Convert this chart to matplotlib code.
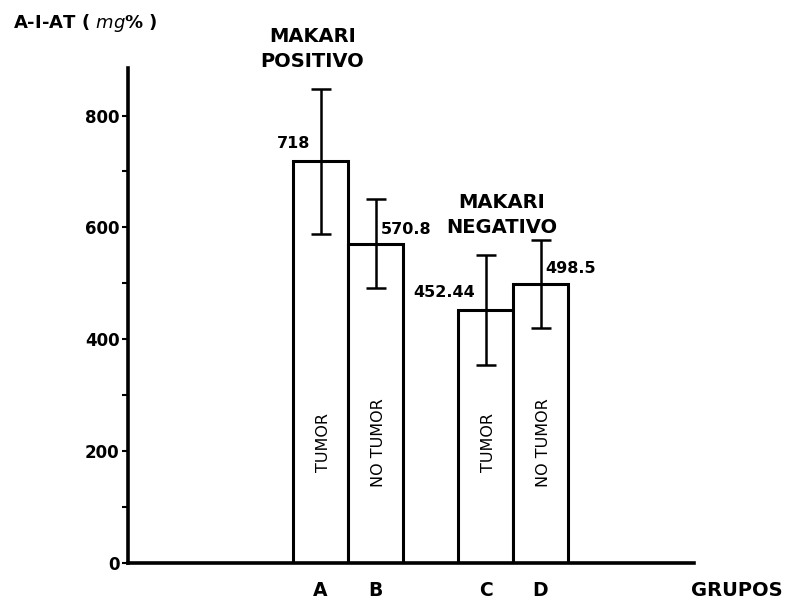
import matplotlib
matplotlib.use("Agg")
import matplotlib.pyplot as plt

# ---- data ----
groups = ['A', 'B', 'C', 'D']
means = [718, 570.8, 452.44, 498.5]
errors = [130, 80, 98, 79]
value_labels = ['718', '570.8', '452.44', '498.5']
bar_labels = ['TUMOR', 'NO TUMOR', 'TUMOR', 'NO TUMOR']
positions = [3.5, 4.5, 6.5, 7.5]
y_ticks = [0, 200, 400, 600, 800]
y_minor = [100, 300, 500, 700]

plt.rcParams['font.family'] = ['DejaVu Sans']

W, H = 796, 604
fig = plt.figure(figsize=(W / 100, H / 100), dpi=100)
ax_l, ax_b, ax_w, ax_h = 128, 41, 566, 495
ax = fig.add_axes([ax_l / W, ax_b / H, ax_w / W, ax_h / H])

ax.bar(positions, means, width=1.0, color='white', edgecolor='black',
       linewidth=2.2, zorder=2)
ax.errorbar(positions, means, yerr=errors, fmt='none', ecolor='black',
            elinewidth=1.8, capsize=7, capthick=1.8, zorder=3)

ax.set_xlim(0, ax_w / 55)
ax.set_ylim(0, 885)

for s in ['top', 'right']:
    ax.spines[s].set_visible(False)
for s in ['left', 'bottom']:
    ax.spines[s].set_linewidth(2.6)

ax.set_yticks(y_ticks)
ax.set_yticklabels([str(v) for v in y_ticks], fontsize=12, fontweight='bold')
ax.set_yticks(y_minor, minor=True)
ax.tick_params(axis='y', which='both', direction='out', length=4, width=1.5, pad=2)

ax.set_xticks(positions)
ax.set_xticklabels(groups, fontsize=13.5, fontweight='bold')
ax.tick_params(axis='x', length=0, pad=13)

# value labels
offsets = [(-10, 18, 'right'), (5, 14, 'left'), (-10, 17, 'right'), (5, 16, 'left')]
for p, m, lab, (dx, dy, ha) in zip(positions, means, value_labels, offsets):
    ax.annotate(lab, (p, m), xytext=(dx, dy), textcoords='offset pixels',
                ha=ha, va='center', fontsize=11.5, fontweight='bold')

# labels inside bars
for p, lab in zip(positions, bar_labels):
    ax.text(p + 0.05, 216, lab, rotation=90, ha='center', va='center', fontsize=11.5)

# group annotations
ax.text(3.35, 919, 'MAKARI\nPOSITIVO', ha='center', va='center', fontsize=14,
        fontweight='bold', linespacing=1.35, clip_on=False)
ax.text(6.8, 622, 'MAKARI\nNEGATIVO', ha='center', va='center', fontsize=14,
        fontweight='bold', linespacing=1.35, clip_on=False)

fig.text(13 / W, 1 - 23 / H, r'A-I-AT ( $\mathit{mg}$% )', ha='left', va='center',
         fontsize=13, fontweight='bold')
fig.text(691 / W, 1 - 591 / H, 'GRUPOS', ha='left', va='center',
         fontsize=14, fontweight='bold')

fig.savefig('out.png', dpi=100)
